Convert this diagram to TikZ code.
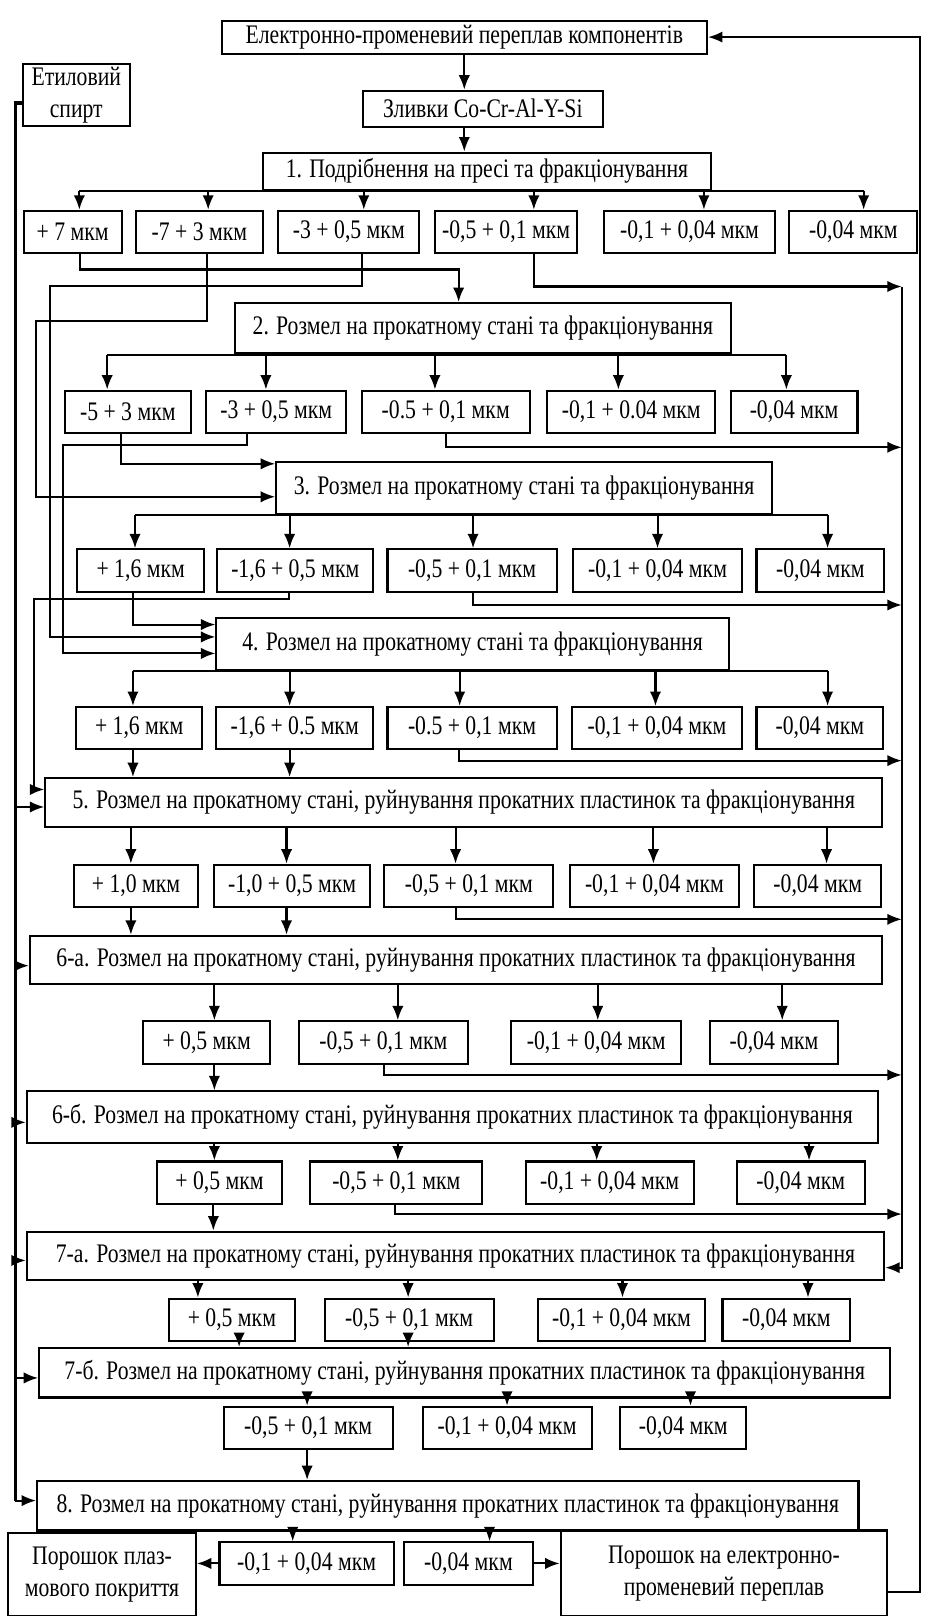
\documentclass[tikz,border=0pt]{standalone}
\usepackage{fontspec}
\setmainfont[FakeStretch=0.81]{Liberation Serif}
\usetikzlibrary{arrows.meta}
\newcommand{\boxfont}{\fontsize{26}{31}\selectfont}

\begin{document}
\begin{tikzpicture}[x=1pt,y=-1pt]
    \tikzstyle{block} = [rectangle,draw=black,line width=2pt,inner sep=0pt,font=\boxfont];
    \tikzstyle{frac} = [block,minimum height=41];
    \tikzstyle{wire} = [line width=2pt];
    \tikzstyle{link} = [line width=2pt,-{Latex[length=14pt,width=11pt]}];
    \tikzstyle{spine} = [line width=3.5pt];

    \useasboundingbox (0,0) rectangle (900,1568);

    \node[block,name=t0,minimum width=471,minimum height=32] at (450.5,36) {Електронно-променевий переплав компонентів};
    \node[block,name=etil,minimum width=104,minimum height=60,align=center] at (74,92) {Етиловий\\спирт};
    \node[block,name=zl,minimum width=233,minimum height=35] at (468.5,105.5) {Зливки Co-Cr-Al-Y-Si};
    \node[block,name=s1,minimum width=435,minimum height=36] at (472.5,166) {1. Подрібнення на пресі та фракціонування};

    \node[frac,name=r1-1,minimum width=95] at (70.5,225) {+ 7 мкм};
    \node[frac,name=r1-2,minimum width=123] at (193.5,225) {-7 + 3 мкм};
    \node[frac,name=r1-3,minimum width=137] at (338.5,225) {-3 + 0,5 мкм};
    \node[frac,name=r1-4,minimum width=138] at (491,225) {-0,5 + 0,1 мкм};
    \node[frac,name=r1-5,minimum width=166] at (669,225) {-0,1 + 0,04 мкм};
    \node[frac,name=r1-6,minimum width=124] at (828,225) {-0,04 мкм};

    \node[block,name=s2,minimum width=481,minimum height=49] at (468.5,318.5) {2. Розмел на прокатному стані та фракціонування};
    \node[frac,name=r2-1,minimum width=122] at (124,399.5) {-5 + 3 мкм};
    \node[frac,name=r2-2,minimum width=136] at (268,399.5) {-3 + 0,5 мкм};
    \node[frac,name=r2-3,minimum width=163] at (432.5,399.5) {-0.5 + 0,1 мкм};
    \node[frac,name=r2-4,minimum width=163] at (612.5,399.5) {-0,1 + 0.04 мкм};
    \node[frac,name=r2-5,minimum width=123] at (770.5,399.5) {-0,04 мкм};

    \node[block,name=s3,minimum width=481,minimum height=51] at (508.5,473.5) {3. Розмел на прокатному стані та фракціонування};
    \node[frac,name=r3-1,minimum width=123] at (136.5,553.5) {+ 1,6 мкм};
    \node[frac,name=r3-2,minimum width=151] at (286.5,553.5) {-1,6 + 0,5 мкм};
    \node[frac,name=r3-3,minimum width=164] at (458,553.5) {-0,5 + 0,1 мкм};
    \node[frac,name=r3-4,minimum width=164] at (638,553.5) {-0,1 + 0,04 мкм};
    \node[frac,name=r3-5,minimum width=124] at (796,553.5) {-0,04 мкм};

    \node[block,name=s4,minimum width=497,minimum height=50] at (458.5,625) {4. Розмел на прокатному стані та фракціонування};
    \node[frac,name=r4-1,minimum width=122] at (135,706.5) {+ 1,6 мкм};
    \node[frac,name=r4-2,minimum width=152] at (286,706.5) {-1,6 + 0.5 мкм};
    \node[frac,name=r4-3,minimum width=164] at (458,706.5) {-0.5 + 0,1 мкм};
    \node[frac,name=r4-4,minimum width=165] at (637.5,706.5) {-0,1 + 0,04 мкм};
    \node[frac,name=r4-5,minimum width=123] at (795.5,706.5) {-0,04 мкм};

    \node[block,name=s5,minimum width=812,minimum height=47] at (450,778.5) {5. Розмел на прокатному стані, руйнування прокатних пластинок та фракціонування};
    \node[frac,name=r5-1,minimum width=120] at (132,859.5) {+ 1,0 мкм};
    \node[frac,name=r5-2,minimum width=151] at (283.5,859.5) {-1,0 + 0,5 мкм};
    \node[frac,name=r5-3,minimum width=164] at (455,859.5) {-0,5 + 0,1 мкм};
    \node[frac,name=r5-4,minimum width=164] at (635,859.5) {-0,1 + 0,04 мкм};
    \node[frac,name=r5-5,minimum width=123] at (793.5,859.5) {-0,04 мкм};

    \node[block,name=s6a,minimum width=827,minimum height=47] at (442.5,931.5) {6-а. Розмел на прокатному стані, руйнування прокатних пластинок та фракціонування};
    \node[frac,name=r6a-1,minimum width=123] at (200.5,1011.5) {+ 0,5 мкм};
    \node[frac,name=r6a-2,minimum width=164] at (372,1011.5) {-0,5 + 0,1 мкм};
    \node[frac,name=r6a-3,minimum width=165] at (578.5,1011.5) {-0,1 + 0,04 мкм};
    \node[frac,name=r6a-4,minimum width=124] at (751,1011.5) {-0,04 мкм};

    \node[block,name=s6b,minimum width=826,minimum height=50] at (439,1084) {6-б. Розмел на прокатному стані, руйнування прокатних пластинок та фракціонування};
    \node[frac,name=r6b-1,minimum width=122] at (213,1147.5) {+ 0,5 мкм};
    \node[frac,name=r6b-2,minimum width=167] at (384.5,1147.5) {-0,5 + 0,1 мкм};
    \node[frac,name=r6b-3,minimum width=163] at (591.5,1147.5) {-0,1 + 0,04 мкм};
    \node[frac,name=r6b-4,minimum width=124] at (777,1147.5) {-0,04 мкм};

    \node[block,name=s7a,minimum width=832,minimum height=47] at (442,1218.5) {7-а. Розмел на прокатному стані, руйнування прокатних пластинок та фракціонування};
    \node[frac,name=r7a-1,minimum width=122] at (225,1280.5) {+ 0,5 мкм};
    \node[frac,name=r7a-2,minimum width=164] at (397,1280.5) {-0,5 + 0,1 мкм};
    \node[frac,name=r7a-3,minimum width=162] at (603,1280.5) {-0,1 + 0,04 мкм};
    \node[frac,name=r7a-4,minimum width=124] at (763,1280.5) {-0,04 мкм};

    \node[block,name=s7b,minimum width=826,minimum height=48] at (451,1332) {7-б. Розмел на прокатному стані, руйнування прокатних пластинок та фракціонування};
    \node[frac,name=r7b-1,minimum width=164] at (299,1385.5) {-0,5 + 0,1 мкм};
    \node[frac,name=r7b-2,minimum width=164] at (492,1385.5) {-0,1 + 0,04 мкм};
    \node[frac,name=r7b-3,minimum width=122] at (663,1385.5) {-0,04 мкм};

    \node[block,name=s8,minimum width=797,minimum height=48] at (434.5,1461) {8. Розмел на прокатному стані, руйнування прокатних пластинок та фракціонування};
    \node[frac,name=r8-1,minimum width=169] at (297.5,1517) {-0,1 + 0,04 мкм};
    \node[frac,name=r8-2,minimum width=125] at (454.5,1517) {-0,04 мкм};
    \node[block,name=p1,minimum width=182,minimum height=81,align=center] at (99,1527.5) {Порошок плаз-\\мового покриття};
    \node[block,name=p2,minimum width=317,minimum height=83,align=center] at (702.5,1526.5) {Порошок на електронно-\\променевий переплав};

    \coordinate (col1) at (875,278);
    \coordinate (col2) at (875,1230);
    \coordinate (spbot) at (15,1456);

    \path (t0.south) edge[link] (t0.south |- zl.north);
    \path (t0.south |- zl.south) edge[link] (t0.south |- s1.north);

    \draw[wire] ([xshift=6.5]r1-1.north |- s1.south) -- ([xshift=10]r1-6.north |- s1.south);
    \path ([xshift=6.5]r1-1.north |- s1.south) edge[link] ([xshift=6.5]r1-1.north);
    \path ([xshift=8.5]r1-2.north |- s1.south) edge[link] ([xshift=8.5]r1-2.north);
    \path ([xshift=14.5]r1-3.north |- s1.south) edge[link] ([xshift=14.5]r1-3.north);
    \path ([xshift=27]r1-4.north |- s1.south) edge[link] ([xshift=27]r1-4.north);
    \path ([xshift=14]r1-5.north |- s1.south) edge[link] ([xshift=14]r1-5.north);
    \path ([xshift=10]r1-6.north |- s1.south) edge[link] ([xshift=10]r1-6.north);

    \draw[link] ([xshift=7.5]r1-1.south) -- ++(0,15) -| ([xshift=-23.5]s2.north);
    \draw[link] ([xshift=7.5]r1-2.south) -- ++(0,65) -- ++(-166,0) |- ([yshift=-8.5]s3.west);
    \draw[link] ([xshift=12.5]r1-3.south) -- ++(0,31) -- ++(-302.5,0) |- ([yshift=7]s4.west);
    \draw[link] ([xshift=27]r1-4.south) |- (col1);

    \draw[wire] ([xshift=-20]r2-1.north |- s2.south) -- ([xshift=-7.5]r2-5.north |- s2.south);
    \path ([xshift=-20]r2-1.north |- s2.south) edge[link] ([xshift=-20]r2-1.north);
    \path ([xshift=-10]r2-2.north |- s2.south) edge[link] ([xshift=-10]r2-2.north);
    \path ([xshift=-10.5]r2-3.north |- s2.south) edge[link] ([xshift=-10.5]r2-3.north);
    \path ([xshift=-12.5]r2-4.north |- s2.south) edge[link] ([xshift=-12.5]r2-4.north);
    \path ([xshift=-7.5]r2-5.north |- s2.south) edge[link] ([xshift=-7.5]r2-5.north);

    \draw[link] ([xshift=-7]r2-1.south) |- ([yshift=23.5]s3.west);
    \draw[link] ([xshift=-28]r2-2.south) -- ++(0,11) -- ++(-179,0) |- ([yshift=-9]s4.west);
    \draw[link] (r2-3.south) |- ([yshift=-13]col1 |- r2-3.south);

    \draw[wire] ([xshift=-5.5]r3-1.north |- s3.south) -- ([xshift=7]r3-5.north |- s3.south);
    \path ([xshift=-5.5]r3-1.north |- s3.south) edge[link] ([xshift=-5.5]r3-1.north);
    \path ([xshift=-5.5]r3-2.north |- s3.south) edge[link] ([xshift=-5.5]r3-2.north);
    \path ([xshift=1]r3-3.north |- s3.south) edge[link] ([xshift=1]r3-3.north);
    \path (r3-4.north |- s3.south) edge[link] (r3-4.north);
    \path ([xshift=7]r3-5.north |- s3.south) edge[link] ([xshift=7]r3-5.north);

    \draw[link] ([xshift=-7.5]r3-1.south) |- ([yshift=19]s4.west);
    \draw[link] ([xshift=-6.5]r3-2.south) -- ++(0,6) -- ++(-247,0) |- ([yshift=12.5]s5.west);
    \draw[link] ([xshift=1]r3-3.south) |- ([yshift=-12]col1 |- r3-3.south);

    \draw[wire] ([xshift=-6]r4-1.north |- s4.south) -- ([xshift=7.5]r4-5.north |- s4.south);
    \path ([xshift=-6]r4-1.north |- s4.south) edge[link] ([xshift=-6]r4-1.north);
    \path ([xshift=-5]r4-2.north |- s4.south) edge[link] ([xshift=-5]r4-2.north);
    \path ([xshift=-12]r4-3.north |- s4.south) edge[link] ([xshift=-12]r4-3.north);
    \path ([xshift=-1.5]r4-4.north |- s4.south) edge[link] ([xshift=-1.5]r4-4.north);
    \path ([xshift=7.5]r4-5.north |- s4.south) edge[link] ([xshift=7.5]r4-5.north);

    \path ([xshift=-6]r4-1.south) edge[link] ([xshift=-6]r4-1.south |- s5.north);
    \path ([xshift=-5]r4-2.south) edge[link] ([xshift=-5]r4-2.south |- s5.north);
    \draw[link] ([xshift=-13]r4-3.south) |- ([yshift=-10]col1 |- r4-3.south);

    \path ([xshift=-5]r5-1.north |- s5.south) edge[link] ([xshift=-5]r5-1.north);
    \path ([xshift=-5.5]r5-2.north |- s5.south) edge[link] ([xshift=-5.5]r5-2.north);
    \path ([xshift=-13]r5-3.north |- s5.south) edge[link] ([xshift=-13]r5-3.north);
    \path ([xshift=-1]r5-4.north |- s5.south) edge[link] ([xshift=-1]r5-4.north);
    \path ([xshift=8.5]r5-5.north |- s5.south) edge[link] ([xshift=8.5]r5-5.north);

    \path ([xshift=-5]r5-1.south) edge[link] ([xshift=-5]r5-1.south |- s6a.north);
    \path ([xshift=-5.5]r5-2.south) edge[link] ([xshift=-5.5]r5-2.south |- s6a.north);
    \draw[link] ([xshift=-13]r5-3.south) |- ([yshift=-11]col1 |- r5-3.south);

    \path ([xshift=7.5]r6a-1.north |- s6a.south) edge[link] ([xshift=7.5]r6a-1.north);
    \path ([xshift=14]r6a-2.north |- s6a.south) edge[link] ([xshift=14]r6a-2.north);
    \path ([xshift=1.5]r6a-3.north |- s6a.south) edge[link] ([xshift=1.5]r6a-3.north);
    \path ([xshift=8]r6a-4.north |- s6a.south) edge[link] ([xshift=8]r6a-4.north);

    \path ([xshift=7.5]r6a-1.south) edge[link] ([xshift=7.5]r6a-1.south |- s6b.north);
    \draw[link] ([xshift=1]r6a-2.south) |- ([yshift=-10]col1 |- r6a-2.south);

    \path ([xshift=-5]r6b-1.north |- s6b.south) edge[link] ([xshift=-5]r6b-1.north);
    \path ([xshift=1.5]r6b-2.north |- s6b.south) edge[link] ([xshift=1.5]r6b-2.north);
    \path ([xshift=-12.5]r6b-3.north |- s6b.south) edge[link] ([xshift=-12.5]r6b-3.north);
    \path ([xshift=8]r6b-4.north |- s6b.south) edge[link] ([xshift=8]r6b-4.north);

    \path ([xshift=-6]r6b-1.south) edge[link] ([xshift=-6]r6b-1.south |- s7a.north);
    \draw[link] ([xshift=-1.5]r6b-2.south) |- ([yshift=-9]col1 |- r6b-2.south);

    \draw[link] (col1) -- (col2) -- (col2 -| s7a.east);

    \path ([xshift=-33]r7a-1.north |- s7a.south) edge[link] ([xshift=-33]r7a-1.north);
    \path ([xshift=-1]r7a-2.north |- s7a.south) edge[link] ([xshift=-1]r7a-2.north);
    \path ([xshift=1]r7a-3.north |- s7a.south) edge[link] ([xshift=1]r7a-3.north);
    \path ([xshift=21]r7a-4.north |- s7a.south) edge[link] ([xshift=21]r7a-4.north);

    \path ([xshift=7]r7a-1.south) edge[link] ([xshift=7]r7a-1.south |- s7b.north);
    \path ([xshift=-1]r7a-2.south) edge[link] ([xshift=-1]r7a-2.south |- s7b.north);

    \path ([xshift=-1]r7b-1.north |- s7b.south) edge[link] ([xshift=-1]r7b-1.north);
    \path (r7b-2.north |- s7b.south) edge[link] (r7b-2.north);
    \path ([xshift=7]r7b-3.north |- s7b.south) edge[link] ([xshift=7]r7b-3.north);

    \path ([xshift=-1]r7b-1.south) edge[link] ([xshift=-1]r7b-1.south |- s8.north);

    \path ([xshift=-13.5]r8-1.north |- s8.south) edge[link] ([xshift=-13.5]r8-1.north);
    \path ([xshift=20.5]r8-2.north |- s8.south) edge[link] ([xshift=20.5]r8-2.north);
    \path (r8-1.west) edge[link] (r8-1.west -| p1.east);
    \path (r8-2.east) edge[link] (r8-2.east -| p2.west);
    \draw[link] ([yshift=-18.5]p2.east) -- ++(31,0) |- (t0.east);

    \draw[spine] ([yshift=-8]etil.west) -| (spbot);
    \path (spbot) edge[link] (spbot -| s8.west);
    \path ([yshift=-4.5]s5.west -| spbot) edge[link] ([yshift=-4.5]s5.west);
    \path ([yshift=-5.5]s6a.west -| spbot) edge[link] ([yshift=-5.5]s6a.west);
    \path ([yshift=-5]s6b.west -| spbot) edge[link] ([yshift=-5]s6b.west);
    \path ([yshift=-4.5]s7a.west -| spbot) edge[link] ([yshift=-4.5]s7a.west);
    \path ([yshift=-5]s7b.west -| spbot) edge[link] ([yshift=-5]s7b.west);
\end{tikzpicture}
\end{document}
